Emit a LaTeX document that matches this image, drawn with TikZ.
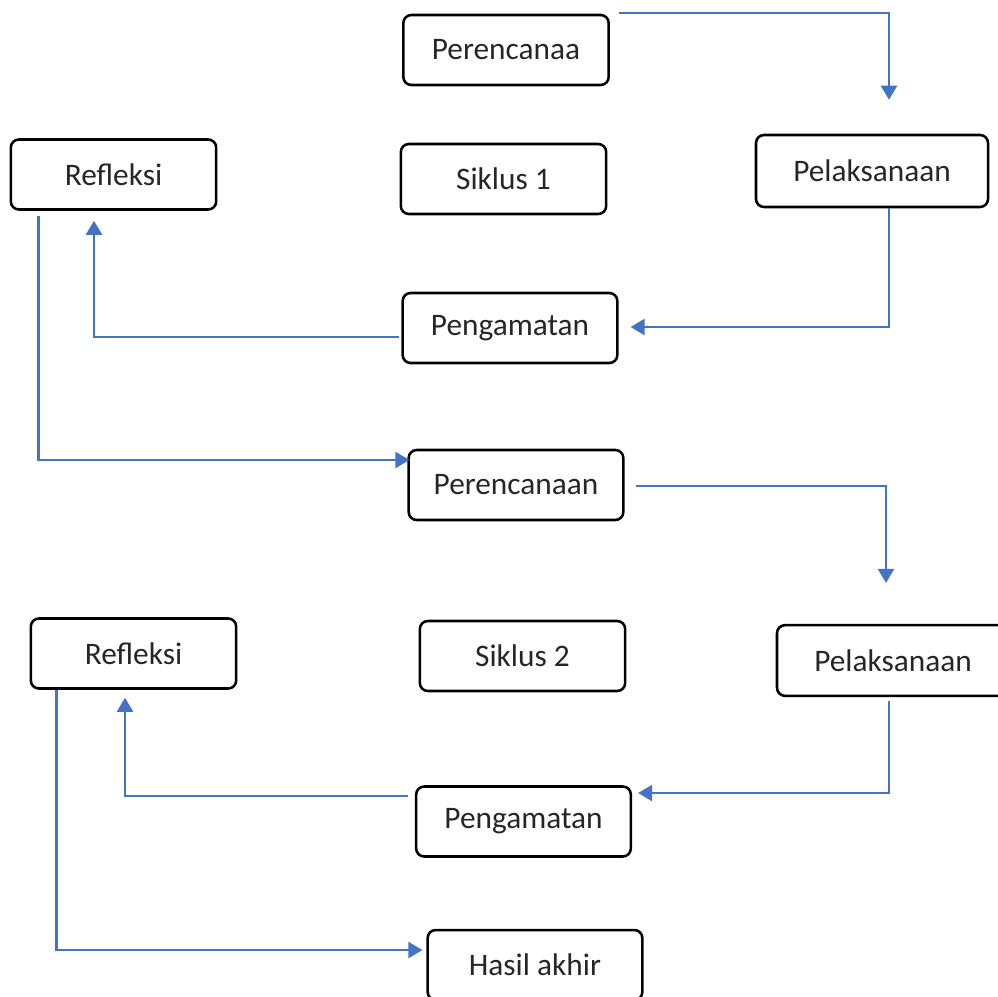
\documentclass[tikz,border=0pt]{standalone}
\usepackage{fontspec}
\setmainfont{Carlito}
\usetikzlibrary{calc,arrows.meta}
\definecolor{flowblue}{RGB}{68,114,196}

\tikzset{
  stage/.style={draw,rounded corners=6pt,line width=1.9pt,minimum width=154pt,
    minimum height=52.5pt,inner sep=0pt,font=\fontsize{23.5}{28}\selectfont,text=black!85},
  wide/.style={minimum width=161pt},
  flow/.style={draw=flowblue,line width=1.7pt,-{Triangle[length=10.5pt,width=12pt]}}
}

\begin{document}
\begin{tikzpicture}[x=0.75pt,y=-0.75pt]
    \useasboundingbox (0,0) rectangle (998,996);

    % siklus 1
    \node[stage] (per1) at (506,50) {Perencanaa};
    \node[stage] (ref1) at (113.5,174.5) {Refleksi};
    \node[stage] (sik1) at (503.5,179) {Siklus 1};
    \node[stage,minimum width=174pt,minimum height=54pt] (pel1) at (872,171) {Pelaksanaan};
    \node[stage,wide] (pen1) at (510,328) {Pengamatan};

    % siklus 2
    \node[stage,wide] (per2) at (516,485) {Perencanaan};
    \node[stage] (ref2) at (133.5,653.5) {Refleksi};
    \node[stage] (sik2) at (522.5,656) {Siklus 2};
    \node[stage,minimum width=174pt,minimum height=53pt] (pel2) at (893,660.5) {Pelaksanaan};
    \node[stage,wide] (pen2) at (523.5,821.5) {Pengamatan};
    \node[stage,wide] (has) at (535,965) {Hasil akhir};

    \draw[flow] ($(per1.north east)+(9,-1)$) -| ($(pel1.north)+(17,-34)$);
    \draw[flow] ($(pel1.south)+(17,0)$) |- ($(pen1.east)+(12,-1)$);
    \draw[flow] ($(pen1.west)+(-2,9)$) -| ($(ref1.south)+(-19.5,10)$);
    \draw[flow] ($(ref1.south west)+(29,5)$) |- ($(per2.west)+(2,-25)$);

    \draw[flow] ($(per2.east)+(11,1)$) -| ($(pel2.north)+(-7,-41)$);
    \draw[flow] ($(pel2.south)+(-4,4)$) |- ($(pen2.east)+(6,-28.5)$);
    \draw[flow] ($(pen2.west)+(-7,-25.5)$) -| ($(ref2.south)+(-8.5,8)$);
    \draw[flow] ($(ref2.south west)+(27,0)$) |- ($(has.west)+(-4,-15)$);
\end{tikzpicture}
\end{document}
